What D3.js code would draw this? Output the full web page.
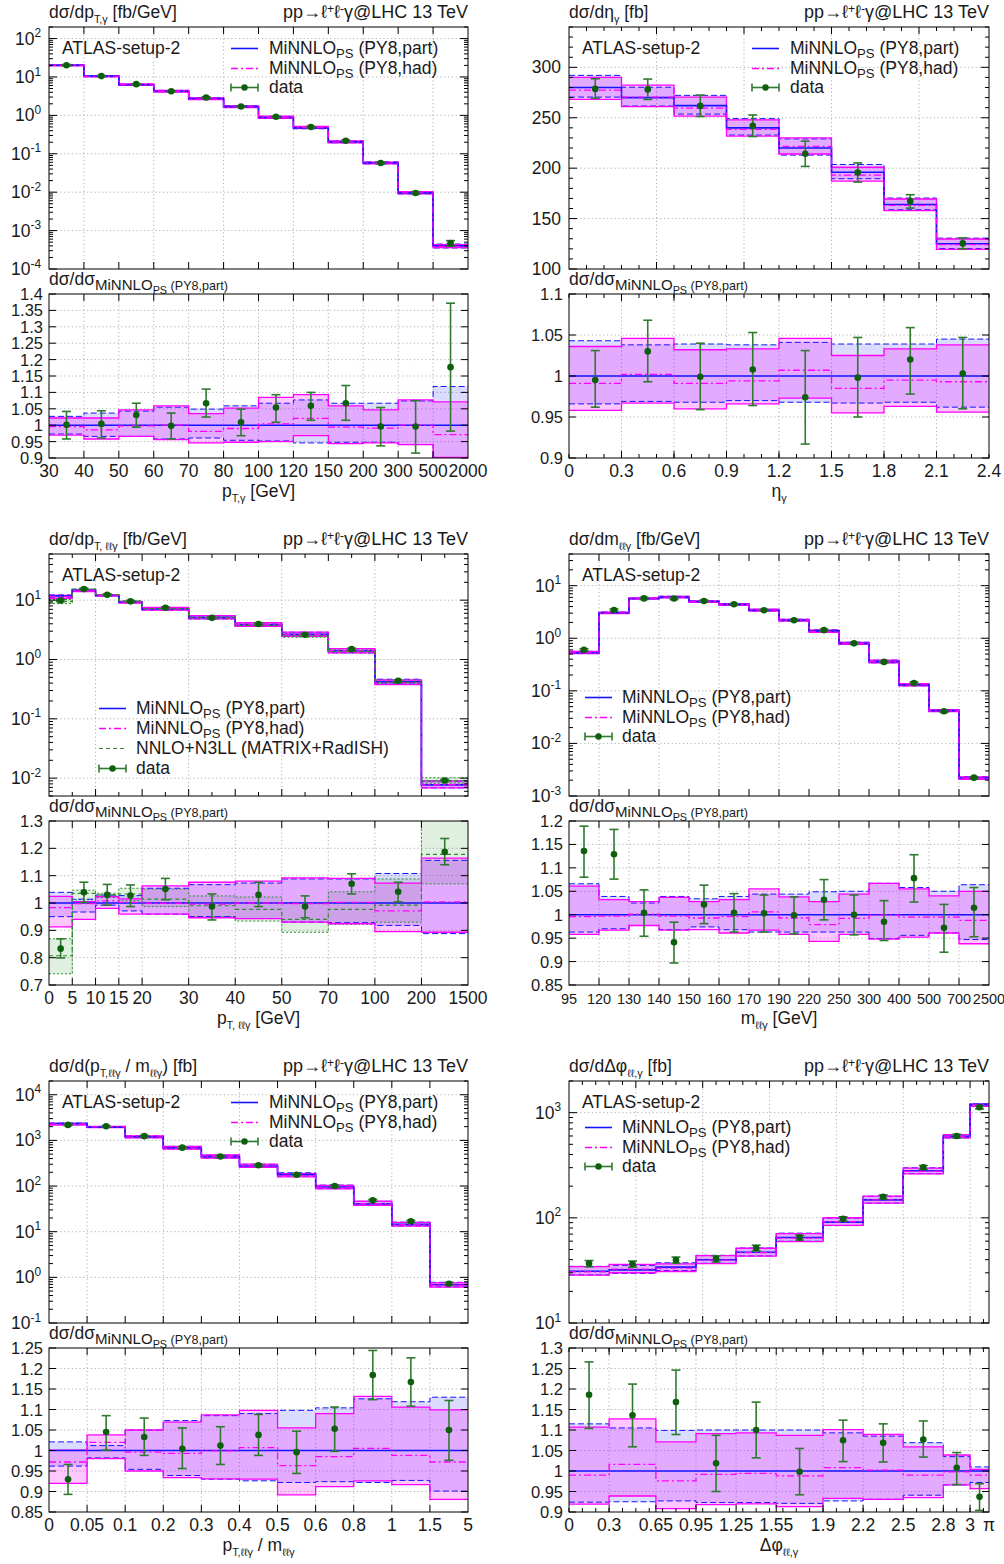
<!DOCTYPE html>
<html><head><meta charset="utf-8">
<script src="https://cdn.jsdelivr.net/npm/d3@7"></script>
<style>
body{margin:0;background:#fff;}
svg text{font-family:"Liberation Sans",Arial,Helvetica,sans-serif;fill:#1a1a1a;}
</style></head><body>
<svg id="c" width="1004" height="1564"></svg>
<script>
// ---------------- DATA ----------------
// Panel 1: pT,gamma
const ptgEdges   = [30,40,50,60,70,80,100,120,150,200,300,500,2000];
const ptgXLabels = ['30','40','50','60','70','80','100','120','150','200','300','500','2000'];
const ptgPart    = [20.2,10.5,6.3,4.25,2.74,1.69,0.877,0.472,0.204,0.0578,0.0096,0.0004];
const ptgPartUp  = [1.027,1.037,1.043,1.055,1.049,1.059,1.067,1.077,1.067,1.067,1.074,1.118];
const ptgPartDn  = [0.973,0.966,0.966,0.958,0.961,0.954,0.952,0.946,0.948,0.948,0.941,0.880];
const ptgHad     = [0.996,0.986,0.998,1.000,0.981,0.990,1.004,1.021,0.994,0.991,1.000,0.971];
const ptgHadUp   = [1.022,1.022,1.047,1.059,1.035,1.052,1.085,1.093,1.059,1.047,1.077,1.071];
const ptgHadDn   = [0.970,0.958,0.966,0.956,0.946,0.948,0.950,0.968,0.944,0.946,0.941,0.902];
const ptgData    = [1.001,1.004,1.031,0.998,1.067,1.009,1.054,1.059,1.067,0.996,0.996,1.177];
const ptgDataUp  = [1.042,1.044,1.067,1.037,1.110,1.049,1.093,1.100,1.121,1.054,1.075,1.372];
const ptgDataDn  = [0.958,0.961,0.994,0.958,1.025,0.968,1.009,1.015,1.015,0.937,0.915,0.982];
const ptgMainExp = [-4,-3,-2,-1,0,1,2];
const ptgRatioTicks = [0.9,0.95,1,1.05,1.1,1.15,1.2,1.25,1.3,1.35,1.4];

// Panel 2: eta_gamma
const etaEdges   = [0,0.3,0.6,0.9,1.2,1.5,1.8,2.1,2.4];
const etaXLabels = ['0','0.3','0.6','0.9','1.2','1.5','1.8','2.1','2.4'];
const etaPart    = [280,270,262,240,220,196,164,125];
const etaPartUp  = [1.043,1.038,1.039,1.038,1.041,1.039,1.039,1.045];
const etaPartDn  = [0.966,0.969,0.968,0.970,0.968,0.967,0.968,0.962];
const etaHad     = [0.991,1.002,0.991,0.994,1.007,0.985,0.995,0.993];
const etaHadUp   = [1.036,1.046,1.032,1.033,1.046,1.025,1.033,1.038];
const etaHadDn   = [0.958,0.967,0.960,0.966,0.973,0.955,0.963,0.956];
const etaData    = [0.995,1.030,0.999,1.008,0.974,0.998,1.020,1.003];
const etaDataUp  = [1.031,1.068,1.040,1.053,1.031,1.047,1.059,1.047];
const etaDataDn  = [0.962,0.993,0.959,0.964,0.917,0.950,0.978,0.960];
const etaMainTicks = [100,150,200,250,300];
const etaRatioTicks = [0.9,0.95,1,1.05,1.1];

// Panel 3: pT,llgamma
const ptlEdges   = [0,5,10,15,20,30,40,50,70,100,200,1500];
const ptlUnits   = [0,0.5,1,1.5,2,3,4,5,6,7,8,9];
const ptlXLabels = ['0','5','10','15','20','30','40','50','70','100','200','1500'];
const ptlPart    = [11.8,14.8,12.0,9.3,7.1,5.1,3.85,2.65,1.4,0.42,0.0077];
const ptlPartUp  = [1.039,1.014,1.029,1.027,1.054,1.067,1.073,1.088,1.088,1.108,1.156];
const ptlPartDn  = [0.950,0.967,0.992,0.971,0.959,0.950,0.943,0.930,0.928,0.918,0.888];
const ptlHad     = [0.983,0.998,1.008,1.002,0.999,0.996,1.000,0.998,1.002,0.971,1.004];
const ptlHadUp   = [1.024,1.005,1.023,1.015,1.063,1.076,1.080,1.092,1.090,1.073,1.164];
const ptlHadDn   = [0.913,0.940,0.980,0.959,0.959,0.946,0.943,0.930,0.924,0.895,0.893];
const ptlNnlo    = [0.807,1.035,1.030,1.033,1.014,0.990,0.977,0.940,0.977,0.992,1.178];
const ptlNnloUp  = [0.869,1.047,1.036,1.054,1.051,1.026,1.022,1.000,1.041,1.088,1.320];
const ptlNnloDn  = [0.741,1.012,1.020,1.008,0.987,0.950,0.934,0.893,0.922,0.930,1.070];
const ptlData    = [0.833,1.039,1.030,1.027,1.051,0.987,1.030,0.987,1.070,1.041,1.187];
const ptlDataUp  = [0.869,1.076,1.068,1.066,1.090,1.033,1.076,1.026,1.107,1.076,1.236];
const ptlDataDn  = [0.799,1.002,0.992,0.987,1.012,0.938,0.987,0.946,1.033,1.004,1.140];
const ptlMainExp = [-2,-1,0,1];
const ptlRatioTicks = [0.7,0.8,0.9,1,1.1,1.2,1.3];

// Panel 4: m_llgamma
const mEdges   = [95,120,130,140,150,160,170,190,220,250,300,400,500,700,2500];
const mXLabels = ['95','120','130','140','150','160','170','190','220','250','300','400','500','700','2500'];
const mPart    = [0.53,3.05,5.7,6.05,5.0,4.4,3.4,2.2,1.38,0.8,0.36,0.13,0.042,0.0022];
const mPartUp  = [1.066,1.039,1.025,1.039,1.034,1.039,1.044,1.044,1.049,1.050,1.067,1.058,1.050,1.064];
const mPartDn  = [0.963,0.970,0.977,0.968,0.974,0.968,0.963,0.963,0.963,0.963,0.949,0.956,0.961,0.947];
const mHad     = [0.996,0.997,1.001,0.997,0.993,0.996,1.006,0.993,0.979,0.992,0.999,0.995,0.995,0.988];
const mHadUp   = [1.061,1.032,1.028,1.037,1.028,1.032,1.055,1.038,1.028,1.044,1.067,1.055,1.040,1.050];
const mHadDn   = [0.958,0.967,0.977,0.967,0.968,0.961,0.967,0.958,0.943,0.958,0.948,0.952,0.961,0.938];
const mData    = [1.136,1.129,1.004,0.941,1.022,1.004,1.003,0.999,1.032,1.000,0.985,1.078,0.972,1.015];
const mDataUp  = [1.189,1.182,1.053,0.984,1.063,1.045,1.042,1.038,1.075,1.042,1.030,1.128,1.022,1.058];
const mDataDn  = [1.080,1.076,0.954,0.897,0.981,0.963,0.963,0.959,0.989,0.957,0.945,1.027,0.920,0.953];
const mMainExp = [-3,-2,-1,0,1];
const mRatioTicks = [0.85,0.9,0.95,1,1.05,1.1,1.15,1.2];

// Panel 5: pT,llgamma / m_llgamma
const rEdges   = [0,0.05,0.1,0.2,0.3,0.4,0.5,0.6,0.8,1,1.5,5];
const rXLabels = ['0','0.05','0.1','0.2','0.3','0.4','0.5','0.6','0.8','1','1.5','5'];
const rPart    = [2350,1950,1200,690,440,275,178,95,41,14.5,0.69];
const rPartUp  = [1.021,1.012,1.050,1.073,1.085,1.090,1.098,1.104,1.126,1.119,1.130];
const rPartDn  = [0.962,0.982,0.954,0.939,0.930,0.926,0.922,0.924,0.922,0.927,0.901];
const rHad     = [0.972,1.020,0.996,0.993,0.999,1.007,0.963,0.985,1.005,0.988,0.972];
const rHadUp   = [1.001,1.038,1.050,1.069,1.087,1.098,1.055,1.090,1.132,1.106,1.099];
const rHadDn   = [0.920,0.980,0.950,0.934,0.931,0.930,0.892,0.912,0.926,0.917,0.881];
const rData    = [0.930,1.045,1.033,1.004,1.012,1.038,0.996,1.053,1.184,1.167,1.050];
const rDataUp  = [0.966,1.085,1.079,1.055,1.058,1.088,1.047,1.106,1.244,1.226,1.122];
const rDataDn  = [0.893,1.001,0.988,0.956,0.966,0.988,0.944,0.998,1.124,1.108,0.976];
const rMainExp = [-1,0,1,2,3,4];
const rRatioTicks = [0.85,0.9,0.95,1,1.05,1.1,1.15,1.2,1.25];

// Panel 6: delta phi
const dphiEdges   = [0,0.3,0.65,0.95,1.25,1.55,1.9,2.2,2.5,2.8,3,Math.PI];
const dphiXLabels = ['0','0.3','0.65','0.95','1.25','1.55','1.9','2.2','2.5','2.8','3','π'];
const dphiPart    = [31,32,34,40,47,65,91,148,280,595,1200];
const dphiPartUp  = [1.115,1.105,1.099,1.100,1.100,1.100,1.093,1.085,1.069,1.035,1.010];
const dphiPartDn  = [0.924,0.925,0.927,0.923,0.923,0.921,0.927,0.931,0.941,0.966,0.972];
const dphiHad     = [0.990,1.016,0.976,0.992,0.994,0.988,1.008,1.002,0.990,0.998,0.990];
const dphiHadUp   = [1.107,1.127,1.071,1.091,1.093,1.087,1.101,1.089,1.059,1.039,1.004];
const dphiHadDn   = [0.919,0.939,0.908,0.918,0.920,0.913,0.933,0.931,0.935,0.966,0.957];
const dphiData    = [1.186,1.136,1.168,1.019,1.100,0.998,1.075,1.069,1.077,1.008,0.937];
const dphiDataUp  = [1.266,1.212,1.246,1.087,1.168,1.055,1.124,1.115,1.122,1.045,0.969];
const dphiDataDn  = [1.104,1.059,1.089,0.950,1.032,0.942,1.023,1.022,1.034,0.967,0.904];
const dphiMainExp = [1,2,3];
const dphiRatioTicks = [0.9,0.95,1,1.05,1.1,1.15,1.2,1.25,1.3];

// ---------------- LAYOUT / STYLE ----------------
const FS = 17.5, RFS = 16.5;
const COLS = [[49,468],[569,989]];
const ROWOFF = 527;
const BLUE = '#1414ff', MAG = '#ff00ff', GRN = '#2e8b2e', DGRN = '#0d5e0d', EBAR = '#2f7a2f';
const BFILL = 'rgba(40,40,255,0.17)', MFILL = 'rgba(255,0,255,0.22)', GFILL = 'rgba(0,128,0,0.12)';

const svg = d3.select('#c');
const defs = svg.append('defs');

function rich(parent, x, y, segs, size, anchor) {
  const t = parent.append('text').attr('x', x).attr('y', y)
    .attr('font-size', size).attr('text-anchor', anchor || 'start');
  let cur = 0;
  segs.forEach(s => {
    const off = (s[1] || 0) * size, sc = s[2] || 1;
    t.append('tspan').attr('font-size', size * sc).attr('dy', off - cur).text(s[0]);
    cur = off;
  });
  return t;
}
const SUB = 0.3, SUBS = 0.62;
const MINI = [['MiNNLO'], ['PS', 0.22, 0.75]];
const PROC = [['pp→ℓ'], ['+', -0.3, 0.68], ['ℓ'], ['-', -0.3, 0.68], ['γ@LHC 13 TeV']];

const PANELS = [
  { col:0, row:0, edges:ptgEdges, xlabels:ptgXLabels, ylog:true, ydom:[1e-4,200], yExp:ptgMainExp,
    rdom:[0.9,1.4], rticks:ptgRatioTicks, mTickStep:1, mMajorStep:1, mGrid:[1,3,5,7,9,11],
    S:{part:ptgPart,partUp:ptgPartUp,partDn:ptgPartDn,had:ptgHad,hadUp:ptgHadUp,hadDn:ptgHadDn,data:ptgData,dataUp:ptgDataUp,dataDn:ptgDataDn},
    title:[['dσ/dp'],['T,γ',SUB,SUBS],[' [fb/GeV]']], xtitle:[['p'],['T,γ',SUB,SUBS],[' [GeV]']],
    leg:{sx:182, tx:220, rows:[27,47,66]} },
  { col:1, row:0, edges:etaEdges, units:etaEdges, xlabels:etaXLabels, ylog:false, ydom:[100,340], yTicks:etaMainTicks, yMinor:10,
    rdom:[0.9,1.1], rticks:etaRatioTicks, rMinor:0.1, mTickStep:0.1, mMajorStep:0.5, mGrid:[0.5,1,1.5,2],
    S:{part:etaPart,partUp:etaPartUp,partDn:etaPartDn,had:etaHad,hadUp:etaHadUp,hadDn:etaHadDn,data:etaData,dataUp:etaDataUp,dataDn:etaDataDn},
    title:[['dσ/dη'],['γ',SUB,SUBS],[' [fb]']], xtitle:[['η'],['γ',SUB,SUBS]],
    leg:{sx:183, tx:221, rows:[27,47,66]} },
  { col:0, row:1, edges:ptlEdges, units:ptlUnits, xlabels:ptlXLabels, ylog:true, ydom:[0.005,60], yExp:ptlMainExp,
    rdom:[0.7,1.3], rticks:ptlRatioTicks, mTickStep:0.5, mMajorStep:1, mGrid:[1,3,5,7],
    S:{part:ptlPart,partUp:ptlPartUp,partDn:ptlPartDn,had:ptlHad,hadUp:ptlHadUp,hadDn:ptlHadDn,data:ptlData,dataUp:ptlDataUp,dataDn:ptlDataDn,
       nnlo:ptlNnlo,nnloUp:ptlNnloUp,nnloDn:ptlNnloDn},
    title:[['dσ/dp'],['T, ℓℓγ',SUB,SUBS],[' [fb/GeV]']], xtitle:[['p'],['T, ℓℓγ',SUB,SUBS],[' [GeV]']],
    leg:{sx:50, tx:87, rows:[160,180,200,220]} },
  { col:1, row:1, edges:mEdges, xlabels:mXLabels, xlabFS:14.5, ylog:true, ydom:[1e-3,40], yExp:mMainExp,
    rdom:[0.85,1.2], rticks:mRatioTicks, mTickStep:1, mMajorStep:1, mGrid:[1,3,5,7,9,11,13],
    S:{part:mPart,partUp:mPartUp,partDn:mPartDn,had:mHad,hadUp:mHadUp,hadDn:mHadDn,data:mData,dataUp:mDataUp,dataDn:mDataDn},
    title:[['dσ/dm'],['ℓℓγ',SUB,SUBS],[' [fb/GeV]']], xtitle:[['m'],['ℓℓγ',SUB,SUBS],[' [GeV]']],
    leg:{sx:16, tx:53, rows:[149,169,188]} },
  { col:0, row:2, edges:rEdges, xlabels:rXLabels, ylog:true, ydom:[0.1,20000], yExp:rMainExp,
    rdom:[0.85,1.25], rticks:rRatioTicks, mTickStep:1, mMajorStep:1, mGrid:[1,3,5,7,9],
    S:{part:rPart,partUp:rPartUp,partDn:rPartDn,had:rHad,hadUp:rHadUp,hadDn:rHadDn,data:rData,dataUp:rDataUp,dataDn:rDataDn},
    title:[['dσ/d(p'],['T,ℓℓγ',SUB,SUBS],[' / m'],['ℓℓγ',SUB,SUBS],[') [fb]']], xtitle:[['p'],['T,ℓℓγ',SUB,SUBS],[' / m'],['ℓℓγ',SUB,SUBS]],
    leg:{sx:182, tx:220, rows:[27,47,66]} },
  { col:1, row:2, edges:dphiEdges, units:dphiEdges, xlabels:dphiXLabels, ylog:true, ydom:[10,2000], yExp:dphiMainExp,
    rdom:[0.9,1.3], rticks:dphiRatioTicks, rMinor:0.1, mTickStep:0.1, mMajorStep:0.5, mGrid:[0.5,1,1.5,2,2.5,3],
    S:{part:dphiPart,partUp:dphiPartUp,partDn:dphiPartDn,had:dphiHad,hadUp:dphiHadUp,hadDn:dphiHadDn,data:dphiData,dataUp:dphiDataUp,dataDn:dphiDataDn},
    title:[['dσ/dΔφ'],['ℓℓ,γ',SUB,SUBS],[' [fb]']], xtitle:[['Δφ'],['ℓℓ,γ',SUB,SUBS]],
    leg:{sx:16, tx:53, rows:[52,72,91]} }
];

function drawPanel(P, idx) {
  const S = P.S;
  const [X0, X1] = COLS[P.col];
  const off = P.row * ROWOFF;
  const mT = 27 + off, mB = 269 + off, rT = 294 + off, rB = 458 + off;
  const E = P.edges, n = E.length - 1;
  const units = P.units || d3.range(n + 1);
  const umax = units[n];
  const xu = d3.scaleLinear().domain([0, umax]).range([X0, X1]);
  const x = d3.scaleLinear().domain(E).range(units.map(u => xu(u)));
  const ym = (P.ylog ? d3.scaleLog() : d3.scaleLinear()).domain(P.ydom).range([mB, mT]);
  const yr = d3.scaleLinear().domain(P.rdom).range([rB, rT]);
  const g = svg.append('g');

  ['m', 'r'].forEach(k => {
    const t = k === 'm' ? mT : rT, b = k === 'm' ? mB : rB;
    defs.append('clipPath').attr('id', `clip${idx}${k}`).append('rect')
      .attr('x', X0).attr('y', t).attr('width', X1 - X0).attr('height', b - t);
  });

  // ---- grids ----
  const grid = g.append('g').attr('stroke', '#a8a8a8').attr('stroke-width', 0.9).attr('stroke-dasharray', '1.2,2.6');
  P.mGrid.forEach(u => { if (u > 0 && u < umax) grid.append('line').attr('x1', xu(u)).attr('x2', xu(u)).attr('y1', mT).attr('y2', mB); });
  const mYMajor = P.ylog ? P.yExp.map(e => Math.pow(10, e)) : P.yTicks;
  mYMajor.forEach(v => { const yy = ym(v); if (yy > mT + 0.5 && yy < mB - 0.5) grid.append('line').attr('x1', X0).attr('x2', X1).attr('y1', yy).attr('y2', yy); });
  E.slice(1, -1).forEach(e => grid.append('line').attr('x1', x(e)).attr('x2', x(e)).attr('y1', rT).attr('y2', rB));
  P.rticks.forEach(v => { const yy = yr(v); if (yy > rT + 0.5 && yy < rB - 0.5) grid.append('line').attr('x1', X0).attr('x2', X1).attr('y1', yy).attr('y2', yy); });

  // ---- histogram layers ----
  function layers(gc, y, T, central) {
    const area = d3.area().x(d => x(d[0])).y0(d => y(d[1])).y1(d => y(d[2]));
    const line = d3.line().x(d => x(d[0])).y(d => y(d[1]));
    const band = (lo, hi) => { const p = []; lo.forEach((v, i) => { p.push([E[i], v, hi[i]]); p.push([E[i + 1], v, hi[i]]); }); return p; };
    const step = vals => { const p = []; vals.forEach((v, i) => { p.push([E[i], v]); p.push([E[i + 1], v]); }); return p; };
    if (S.nnlo) gc.append('path').attr('d', area(band(T(S.nnloDn), T(S.nnloUp)))).attr('fill', GFILL);
    gc.append('path').attr('d', area(band(T(S.partDn), T(S.partUp)))).attr('fill', BFILL);
    gc.append('path').attr('d', area(band(T(S.hadDn), T(S.hadUp)))).attr('fill', MFILL);
    const L = (vals, col, w, dash) => gc.append('path').attr('d', line(step(vals))).attr('fill', 'none')
      .attr('stroke', col).attr('stroke-width', w).attr('stroke-dasharray', dash || null);
    if (S.nnlo) { L(T(S.nnloUp), GRN, 1, '2,2'); L(T(S.nnloDn), GRN, 1, '2,2'); }
    L(T(S.partUp), BLUE, 1, '6,3'); L(T(S.partDn), BLUE, 1, '6,3');
    L(T(S.hadUp), MAG, 1.3); L(T(S.hadDn), MAG, 1.3);
    L(central, BLUE, 1.6);
    L(T(S.had), MAG, 1.3, '7,3,2,3');
    if (S.nnlo) L(T(S.nnlo), GRN, 1.2, '4,3');
    const dv = T(S.data), du = T(S.dataUp), dd = T(S.dataDn);
    dv.forEach((v, i) => {
      const xc = x((E[i] + E[i + 1]) / 2);
      const gg = gc.append('g');
      gg.append('line').attr('x1', xc).attr('x2', xc).attr('y1', y(dd[i])).attr('y2', y(du[i])).attr('stroke', EBAR).attr('stroke-width', 1.6);
      [dd[i], du[i]].forEach(e => gg.append('line').attr('x1', xc - 4.5).attr('x2', xc + 4.5).attr('y1', y(e)).attr('y2', y(e)).attr('stroke', EBAR).attr('stroke-width', 1.6));
      gg.append('circle').attr('cx', xc).attr('cy', y(v)).attr('r', 3.3).attr('fill', DGRN);
    });
  }
  const gm = g.append('g').attr('clip-path', `url(#clip${idx}m)`);
  const gr = g.append('g').attr('clip-path', `url(#clip${idx}r)`);
  layers(gm, ym, a => a.map((v, i) => S.part[i] * v), S.part);
  layers(gr, yr, a => a, S.part.map(() => 1));

  // ---- frames & ticks ----
  const ax = g.append('g').attr('stroke', '#000').attr('stroke-width', 1);
  const tk = (x1, y1, x2, y2) => ax.append('line').attr('x1', x1).attr('y1', y1).attr('x2', x2).attr('y2', y2);
  d3.range(0, umax + 1e-9, P.mTickStep).forEach(u => {
    if (u < 1e-9 || u > umax - 1e-9) return;
    const q = u / P.mMajorStep, maj = Math.abs(q - Math.round(q)) < 1e-6;
    const len = maj ? 7 : 4, xx = xu(u);
    tk(xx, mB, xx, mB - len); tk(xx, mT, xx, mT + len);
  });
  const yt = (v, len) => { const yy = ym(v); if (yy < mT - 0.1 || yy > mB + 0.1) return; tk(X0, yy, X0 + len, yy); tk(X1, yy, X1 - len, yy); };
  if (P.ylog) {
    const lo = Math.floor(Math.log10(P.ydom[0])), hi = Math.ceil(Math.log10(P.ydom[1]));
    for (let e = lo; e <= hi; e++) for (let k = 1; k <= 9; k++) {
      const v = k * Math.pow(10, e);
      if (v >= P.ydom[0] * 0.999 && v <= P.ydom[1] * 1.001) yt(v, k === 1 ? 8 : 4);
    }
  } else {
    d3.range(P.ydom[0], P.ydom[1] + 1e-9, P.yMinor).forEach(v => yt(v, P.yTicks.includes(v) ? 8 : 4));
  }
  E.slice(1, -1).forEach(e => { tk(x(e), rB, x(e), rB - 7); tk(x(e), rT, x(e), rT + 7); });
  if (P.rMinor) d3.range(0, umax + 1e-9, P.rMinor).forEach(u => { const xx = xu(u); tk(xx, rB, xx, rB - 4); tk(xx, rT, xx, rT + 4); });
  P.rticks.forEach(v => { const yy = yr(v); tk(X0, yy, X0 + 7, yy); tk(X1, yy, X1 - 7, yy); });
  ax.append('rect').attr('x', X0).attr('y', mT).attr('width', X1 - X0).attr('height', mB - mT).attr('fill', 'none');
  ax.append('rect').attr('x', X0).attr('y', rT).attr('width', X1 - X0).attr('height', rB - rT).attr('fill', 'none');

  // ---- labels ----
  const lab = g.append('g');
  if (P.ylog) P.yExp.forEach(e => rich(lab, X0 - 8, ym(Math.pow(10, e)) + 6, [['10'], [String(e), -0.42, 0.68]], FS, 'end'));
  else P.yTicks.forEach(v => lab.append('text').attr('x', X0 - 8).attr('y', ym(v) + 6).attr('font-size', FS).attr('text-anchor', 'end').text(String(v)));
  P.rticks.forEach(v => lab.append('text').attr('x', X0 - 6).attr('y', yr(v) + 6).attr('font-size', RFS).attr('text-anchor', 'end').text(String(v)));
  const xfs = P.xlabFS || FS;
  P.xlabels.forEach((t, i) => lab.append('text').attr('x', x(E[i])).attr('y', rB + 19).attr('font-size', xfs).attr('text-anchor', 'middle').text(t));
  rich(lab, (X0 + X1) / 2, rB + 39, P.xtitle, FS, 'middle');
  rich(lab, X0, mT - 9, P.title, FS);
  rich(lab, X1, mT - 9, PROC, 18, 'end');
  rich(lab, X0, rT - 9, [['dσ/dσ'], ['MiNNLO', 0.28, 0.86], ['PS', 0.5, 0.62], [' (PY8,part)', 0.28, 0.72]], FS);
  lab.append('text').attr('x', X0 + 13).attr('y', mT + 27).attr('font-size', FS).text('ATLAS-setup-2');

  // ---- legend ----
  const lg = g.append('g');
  const entries = [
    { t: [...MINI, [' (PY8,part)']], draw: s => s.append('line').attr('stroke', BLUE).attr('stroke-width', 1.6) },
    { t: [...MINI, [' (PY8,had)']], draw: s => s.append('line').attr('stroke', MAG).attr('stroke-width', 1.3).attr('stroke-dasharray', '7,3,2,3') }
  ];
  if (S.nnlo) entries.push({ t: [['NNLO+N3LL (MATRIX+RadISH)']], draw: s => s.append('line').attr('stroke', GRN).attr('stroke-width', 1.2).attr('stroke-dasharray', '4,3') });
  entries.push({ t: [['data']], data: true });
  entries.forEach((en, k) => {
    const by = mT + P.leg.rows[k], cy = by - 5.5;
    const sx0 = X0 + P.leg.sx, sx1 = sx0 + 27;
    if (en.data) {
      lg.append('line').attr('x1', sx0).attr('x2', sx1).attr('y1', cy).attr('y2', cy).attr('stroke', EBAR).attr('stroke-width', 1.6);
      [sx0, sx1].forEach(xx => lg.append('line').attr('x1', xx).attr('x2', xx).attr('y1', cy - 4).attr('y2', cy + 4).attr('stroke', EBAR).attr('stroke-width', 1.6));
      lg.append('circle').attr('cx', (sx0 + sx1) / 2).attr('cy', cy).attr('r', 3.2).attr('fill', DGRN);
    } else {
      en.draw(lg).attr('x1', sx0).attr('x2', sx1).attr('y1', cy).attr('y2', cy);
    }
    rich(lg, X0 + P.leg.tx, by, en.t, FS);
  });
}

PANELS.forEach((P, i) => drawPanel(P, i));
</script>
</body></html>
